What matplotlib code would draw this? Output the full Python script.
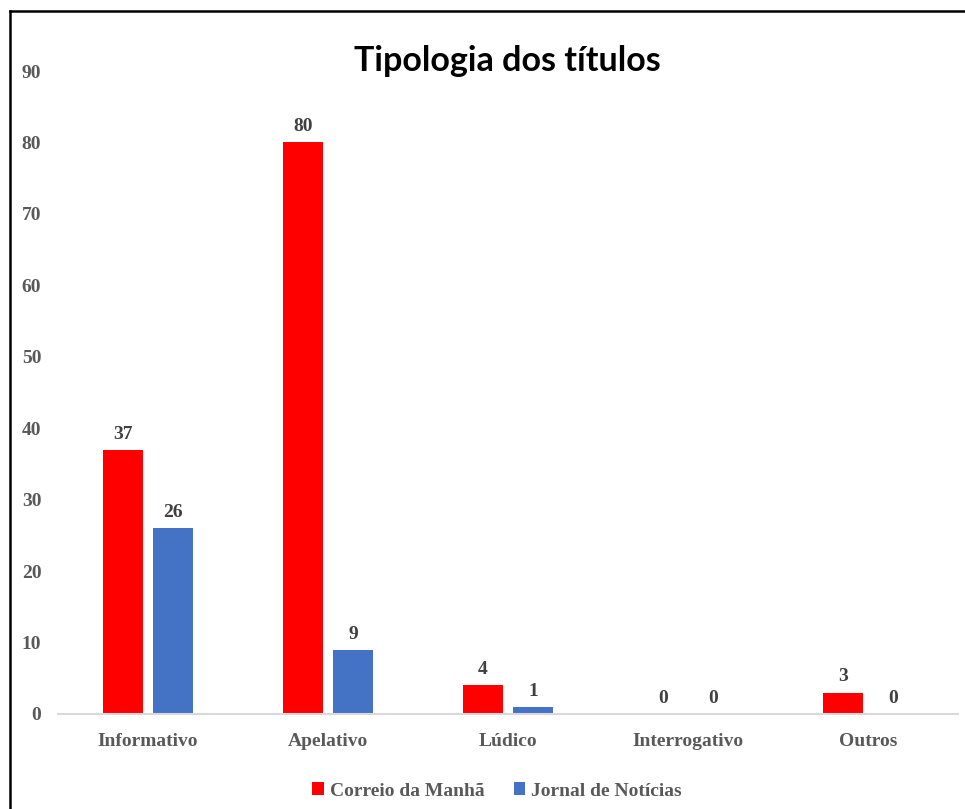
import matplotlib
matplotlib.use("Agg")
import matplotlib.pyplot as plt
from matplotlib.lines import Line2D
import numpy as np

# ── Data ───────────────────────────────────────────────────────────────────
categories = ["Informativo", "Apelativo", "Lúdico", "Interrogativo", "Outros"]
series_names = ["Correio da Manhã", "Jornal de Notícias"]
correio = [37, 80, 4, 0, 3]
jornal = [26, 9, 1, 0, 0]
colors = ["#ff0000", "#4472c4"]
yticks = [0, 10, 20, 30, 40, 50, 60, 70, 80, 90]

SERIF = "Liberation Serif"
TXT = "#595959"
LBL = "#404040"

fig = plt.figure(figsize=(9.65, 8.09), dpi=100)
ax = fig.add_axes([58 / 965, 1 - 714 / 809, 900 / 965, (714 - 71) / 809])

x = np.arange(len(categories))
w = 0.222
off = 0.139
for vals, dx, col, name in [(correio, -off, colors[0], series_names[0]),
                            (jornal, off, colors[1], series_names[1])]:
    bars = ax.bar(x + dx, vals, width=w, color=col, label=name, zorder=2)
    for b, v in zip(bars, vals):
        ax.text(b.get_x() + b.get_width() / 2, v + 1.0, str(v),
                ha="center", va="bottom", fontsize=14, fontweight="bold",
                family=SERIF, color=LBL)

ax.set_xlim(-0.5, len(categories) - 0.5)
ax.set_ylim(0, 90)
ax.set_yticks(yticks)
ax.set_xticks(x)
ax.set_xticklabels(categories)
for lab in ax.get_xticklabels() + ax.get_yticklabels():
    lab.set_family(SERIF); lab.set_fontweight("bold")
    lab.set_fontsize(14); lab.set_color(TXT)
ax.tick_params(length=0)
ax.tick_params(axis="x", pad=14)
ax.tick_params(axis="y", pad=12)
for s in ["top", "right", "left"]:
    ax.spines[s].set_visible(False)
ax.spines["bottom"].set_color("#d9d9d9")
ax.spines["bottom"].set_linewidth(1.5)

fig.text(507 / 965, 1 - 61 / 809, "Tipologia dos títulos", ha="center",
         va="center", fontsize=24.5, fontweight="bold", family="Lato")

leg = fig.legend(loc="center", bbox_to_anchor=(0.515, 1 - 791 / 809),
                 ncol=2, frameon=False, handlelength=0.6, handleheight=0.6,
                 handletextpad=0.3, columnspacing=1.5,
                 prop={"family": SERIF, "weight": "bold", "size": 14})
for t in leg.get_texts():
    t.set_color(TXT)

# outer frame (left and top edges visible in the crop)
fig.add_artist(Line2D([9.5 / 965, 9.5 / 965], [0, 1 - 11 / 809],
                      transform=fig.transFigure, color="black", lw=1.8))
fig.add_artist(Line2D([9.5 / 965, 1], [1 - 11 / 809, 1 - 11 / 809],
                      transform=fig.transFigure, color="black", lw=1.8))

fig.savefig("out.png", dpi=100)
